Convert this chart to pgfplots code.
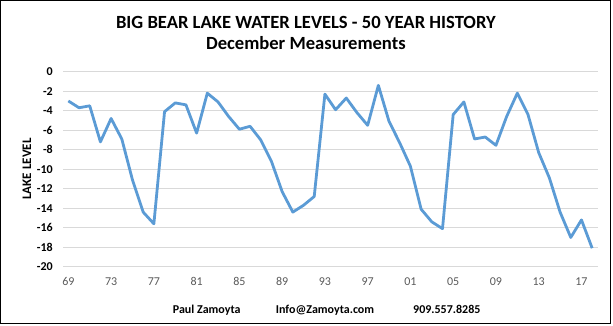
\documentclass[border=0pt]{standalone}
\usepackage{fontspec}
\setmainfont{Carlito}
\usepackage{pgfplots}
\pgfplotsset{compat=1.18}
\definecolor{lineblue}{HTML}{5B9BD5}
\definecolor{gridgray}{HTML}{D9D9D9}
\definecolor{labelgray}{HTML}{595959}

% December lake level, one value per year
\pgfplotstableread{
year level
1969 -3.0
1970 -3.7
1971 -3.5
1972 -7.2
1973 -4.8
1974 -6.9
1975 -11.1
1976 -14.4
1977 -15.6
1978 -4.1
1979 -3.2
1980 -3.4
1981 -6.3
1982 -2.2
1983 -3.1
1984 -4.6
1985 -5.9
1986 -5.6
1987 -7.0
1988 -9.2
1989 -12.3
1990 -14.4
1991 -13.7
1992 -12.8
1993 -2.3
1994 -3.9
1995 -2.7
1996 -4.2
1997 -5.5
1998 -1.4
1999 -5.1
2000 -7.3
2001 -9.7
2002 -14.1
2003 -15.4
2004 -16.1
2005 -4.4
2006 -3.1
2007 -6.9
2008 -6.7
2009 -7.55
2010 -4.6
2011 -2.2
2012 -4.4
2013 -8.3
2014 -10.9
2015 -14.4
2016 -17.0
2017 -15.2
2018 -18.1
}\levels

\begin{document}
\begin{tikzpicture}
\useasboundingbox (-63bp,-59.3bp) rectangle (550bp,266.7bp);
\begin{axis}[
  at={(0,0)}, anchor=south west,
  scale only axis,
  width=534.5bp, height=195bp,
  xmin=1968.5, xmax=2018.5,
  ymin=-20, ymax=0,
  axis line style={draw=none},
  major tick length=0pt,
  ytick={-20,-18,...,0},
  ymajorgrids,
  grid style={gridgray, line width=0.9bp},
  xtick={1969,1973,...,2017},
  xticklabels={69,73,77,81,85,89,93,97,01,05,09,13,17},
  /pgf/number format/assume math mode=true,
  x tick label style={font=\fontsize{12bp}{14bp}\selectfont, text=labelgray,
    anchor=base, inner sep=0pt, yshift=-18.6bp},
  y tick label style={font=\bfseries\fontsize{12bp}{14bp}\selectfont, text=black,
    anchor=east, inner sep=0pt, xshift=-10bp},
]
\addplot[lineblue, line width=2.8bp, line join=round] table[x=year, y=level] {\levels};
\end{axis}

% outer frame
\draw[black, line width=1.5bp] (-62.25bp,-56.8bp) rectangle (547.5bp,265.95bp);

% titles
\node[anchor=base, inner sep=0pt, font=\bfseries\fontsize{18.6bp}{20bp}\selectfont]
  at (242.9bp,238.4bp) {BIG BEAR LAKE WATER LEVELS - 50 YEAR HISTORY};
\node[anchor=base, inner sep=0pt, font=\bfseries\fontsize{18.6bp}{20bp}\selectfont]
  at (242.9bp,217.4bp) {December Measurements};

% axis title
\node[rotate=90, inner sep=0pt, font=\bfseries\fontsize{13bp}{15bp}\selectfont]
  at (-36bp,97.7bp) {LAKE LEVEL};

% footer
\begin{scope}[every node/.style={anchor=base west, inner sep=0pt,
    font=\bfseries\fontsize{12bp}{14bp}\selectfont}]
  \node at (109.7bp,-47bp) {Paul Zamoyta};
  \node at (212.7bp,-47bp) {Info@Zamoyta.com};
  \node at (350bp,-47bp) {909.557.8285};
\end{scope}
\end{tikzpicture}
\end{document}
